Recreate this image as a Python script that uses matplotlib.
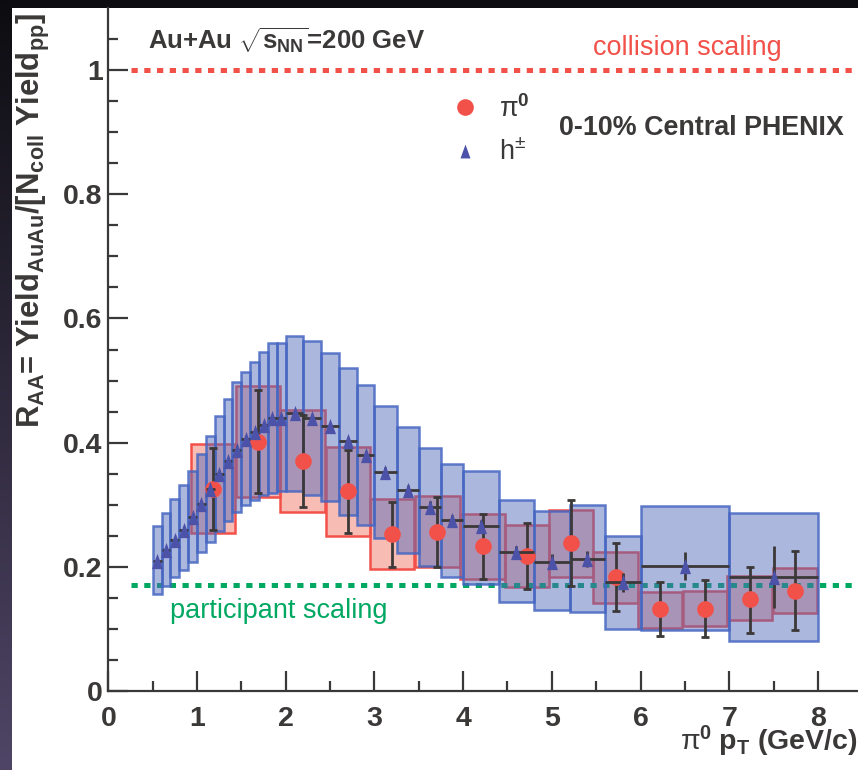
import matplotlib
matplotlib.use('Agg')
import matplotlib.pyplot as plt
from matplotlib.patches import Rectangle
from matplotlib.lines import Line2D
import numpy as np

plt.rcParams['font.family'] = ['Liberation Sans', 'DejaVu Sans']
plt.rcParams['mathtext.fontset'] = 'custom'
plt.rcParams['mathtext.rm'] = 'Liberation Sans:bold'
plt.rcParams['mathtext.it'] = 'Liberation Sans:bold'
plt.rcParams['mathtext.bf'] = 'Liberation Sans:bold'
plt.rcParams['mathtext.sf'] = 'Liberation Sans'

# ---------------- data ----------------
# pi0 R_AA (0-10% central Au+Au)
pi0_pt = [1.18, 1.69, 2.19, 2.70, 3.20, 3.71, 4.22, 4.72, 5.22, 5.72, 6.22, 6.73, 7.23, 7.74]
pi0_raa = [0.326, 0.401, 0.370, 0.322, 0.253, 0.256, 0.234, 0.218, 0.239, 0.183, 0.132, 0.132, 0.148, 0.161]
pi0_stat_lo = [0.259, 0.319, 0.296, 0.254, 0.199, 0.200, 0.181, 0.165, 0.169, 0.129, 0.088, 0.087, 0.093, 0.099]
pi0_stat_hi = [0.392, 0.484, 0.445, 0.388, 0.305, 0.313, 0.285, 0.270, 0.307, 0.239, 0.175, 0.179, 0.200, 0.226]
pi0_sys_lo = [0.254, 0.312, 0.288, 0.250, 0.196, 0.199, 0.180, 0.168, 0.184, 0.142, 0.102, 0.104, 0.114, 0.125]
pi0_sys_hi = [0.398, 0.491, 0.453, 0.393, 0.309, 0.314, 0.285, 0.267, 0.291, 0.224, 0.160, 0.161, 0.185, 0.198]
pi0_bin_halfwidth = 0.25

# charged hadrons R_AA
h_pt_lo = [0.5, 0.6, 0.7, 0.8, 0.9, 1.0, 1.1, 1.2, 1.3, 1.4, 1.5, 1.6, 1.7, 1.8, 1.9,
           2.0, 2.2, 2.4, 2.6, 2.8, 3.0, 3.25, 3.5, 3.75, 4.0, 4.4, 4.8, 5.2, 5.6, 6.0, 7.0]
h_pt_hi = [0.6, 0.7, 0.8, 0.9, 1.0, 1.1, 1.2, 1.3, 1.4, 1.5, 1.6, 1.7, 1.8, 1.9, 2.0,
           2.2, 2.4, 2.6, 2.8, 3.0, 3.25, 3.5, 3.75, 4.0, 4.4, 4.8, 5.2, 5.6, 6.0, 7.0, 8.0]
h_raa = [0.210, 0.227, 0.243, 0.260, 0.280, 0.301, 0.325, 0.349, 0.370, 0.388, 0.406, 0.417,
         0.429, 0.440, 0.440, 0.447, 0.440, 0.426, 0.402, 0.380, 0.352, 0.324, 0.297, 0.275,
         0.265, 0.224, 0.208, 0.213, 0.175, 0.201, 0.184]
h_stat = [0.005, 0.005, 0.005, 0.005, 0.005, 0.005, 0.005, 0.005, 0.005, 0.005, 0.005, 0.005,
          0.005, 0.005, 0.005, 0.006, 0.006, 0.006, 0.007, 0.007, 0.008, 0.008, 0.009, 0.009,
          0.010, 0.010, 0.012, 0.013, 0.015, 0.023, 0.050]
h_sys_lo = [0.156, 0.169, 0.183, 0.195, 0.208, 0.224, 0.240, 0.257, 0.274, 0.288, 0.300, 0.307,
            0.316, 0.319, 0.322, 0.322, 0.316, 0.306, 0.284, 0.267, 0.246, 0.222, 0.201, 0.184,
            0.172, 0.144, 0.130, 0.127, 0.100, 0.099, 0.081]
h_sys_hi = [0.265, 0.287, 0.309, 0.331, 0.355, 0.382, 0.411, 0.443, 0.470, 0.497, 0.514, 0.530,
            0.546, 0.560, 0.561, 0.571, 0.563, 0.545, 0.521, 0.493, 0.459, 0.425, 0.392, 0.366,
            0.355, 0.307, 0.290, 0.300, 0.250, 0.298, 0.287]

collision_scaling = 1.0
participant_scaling = 0.17
scaling_pt_start = 0.26

x_ticks = [0, 1, 2, 3, 4, 5, 6, 7, 8]
y_ticks = [0, 0.2, 0.4, 0.6, 0.8, 1.0]
y_ticklabels = ['0', '0.2', '0.4', '0.6', '0.8', '1']

# ---------------- styling ----------------
W, H = 858, 770
TXT = '#3b3838'
RED = '#f2514a'
GREEN = '#00a862'
TRI = '#4b52a8'

fig = plt.figure(figsize=(W / 100, H / 100), dpi=100, facecolor='#0d0d11')

# left gradient strip of the slide background
bg = fig.add_axes([0, 0, 12 / W, 1])
grad = np.linspace(0, 1, 256)[:, None]
top_c = np.array([0.05, 0.05, 0.065])
bot_c = np.array([0.31, 0.27, 0.40])
img = top_c[None, None, :] * (1 - grad[:, :, None]) + bot_c[None, None, :] * grad[:, :, None]
bg.imshow(img, aspect='auto', extent=[0, 1, 0, 1], origin='upper')
bg.axis('off')

fig.patches.append(Rectangle((12 / W, 0), 1 - 12 / W, 1 - 8 / H, transform=fig.transFigure,
                             facecolor='white', edgecolor='none', zorder=-5))

ax_left, ax_bottom = 108.3 / W, (H - 691) / H
ax_w, ax_h = (W - 108.3) / W, 683 / H
ax = fig.add_axes([ax_left, ax_bottom, ax_w, ax_h])
ax.set_facecolor('none')
ax.set_xlim(0, 8.452)
ax.set_ylim(0, 1.1)

# pi0 systematic boxes
for pt, lo, hi in zip(pi0_pt, pi0_sys_lo, pi0_sys_hi):
    ax.add_patch(Rectangle((pt - pi0_bin_halfwidth, lo), 2 * pi0_bin_halfwidth, hi - lo,
                           facecolor=(0.93, 0.36, 0.27, 0.40), edgecolor=RED, lw=1.8, zorder=1))

# scaling lines
ax.hlines(collision_scaling, scaling_pt_start, 8.452, colors=RED, lw=3.6,
          linestyles=(0, (1.25, 1.3)), zorder=1.5, capstyle='butt')
ax.hlines(participant_scaling, scaling_pt_start, 8.452, colors=GREEN, lw=3.6,
          linestyles=(0, (1.25, 1.3)), zorder=1.5, capstyle='butt')

# h+- systematic boxes
for lo_pt, hi_pt, lo, hi in zip(h_pt_lo, h_pt_hi, h_sys_lo, h_sys_hi):
    ax.add_patch(Rectangle((lo_pt, lo), hi_pt - lo_pt, hi - lo,
                           facecolor=(0.32, 0.41, 0.73, 0.48), edgecolor=(0.27, 0.40, 0.76, 0.85),
                           lw=1.8, zorder=2))

# pi0 points
pi0_pt_a = np.array(pi0_pt)
pi0_raa_a = np.array(pi0_raa)
yerr_pi0 = [pi0_raa_a - np.array(pi0_stat_lo), np.array(pi0_stat_hi) - pi0_raa_a]
ax.errorbar(pi0_pt_a, pi0_raa_a, yerr=yerr_pi0, fmt='none', ecolor=TXT, elinewidth=2.0,
            capsize=3.2, capthick=2.0, zorder=5)
ax.plot(pi0_pt_a, pi0_raa_a, 'o', color=RED, markersize=12, markeredgewidth=0, zorder=6)

# h+- points
h_lo_a, h_hi_a = np.array(h_pt_lo), np.array(h_pt_hi)
h_pt = (h_lo_a + h_hi_a) / 2
xerr_h = [h_pt - h_lo_a, h_hi_a - h_pt]
ax.errorbar(h_pt, h_raa, xerr=xerr_h, yerr=h_stat, fmt='none', ecolor=TXT, elinewidth=2.0,
            capsize=0, zorder=7)
tri = [(-0.36, -0.5), (0.36, -0.5), (0.0, 0.5), (-0.36, -0.5)]
ax.plot(h_pt, h_raa, linestyle='none', marker=tri, color=TRI, markersize=11,
        markeredgewidth=0, zorder=8)

# axes styling
for s in ['top', 'right']:
    ax.spines[s].set_visible(False)
for s in ['left', 'bottom']:
    ax.spines[s].set_color(TXT)
    ax.spines[s].set_linewidth(1.6)
ax.set_xticks(x_ticks)
ax.set_xticks(np.arange(0.5, 8.5, 1.0), minor=True)
ax.set_yticks(y_ticks)
ax.set_yticklabels(y_ticklabels)
ax.set_yticks(np.arange(0.05, 1.1, 0.05), minor=True)
ax.tick_params(axis='both', which='major', direction='in', length=14.5, width=1.6,
               color=TXT, labelcolor=TXT, labelsize=20.5)
ax.tick_params(axis='both', which='minor', direction='in', length=7.2, width=1.6, color=TXT)
ax.tick_params(axis='x', which='major', pad=11)
ax.tick_params(axis='y', which='major', pad=4)
for lab in ax.get_xticklabels() + ax.get_yticklabels():
    lab.set_fontweight('bold')

# texts
ax.text(0.0526, 0.9385, r'Au+Au $\sqrt{s_{NN}}$=200 GeV', transform=ax.transAxes,
        fontsize=18.5, fontweight='bold', color=TXT, va='baseline', ha='left')
ax.text(0.6465, 0.931, 'collision scaling', transform=ax.transAxes, fontsize=19.5,
        color=RED, va='baseline', ha='left')
ax.text(0.6016, 0.814, '0-10% Central PHENIX', transform=ax.transAxes, fontsize=19.4,
        fontweight='bold', color=TXT, va='baseline', ha='left')
ax.text(0.0823, 0.1064, 'participant scaling', transform=ax.transAxes, fontsize=19.5,
        color=GREEN, va='baseline', ha='left')

# legend
hd = [Line2D([], [], linestyle='none', marker='o', color=RED, markersize=12, markeredgewidth=0),
      Line2D([], [], linestyle='none', marker=tri, color=TRI, markersize=10, markeredgewidth=0)]
leg = ax.legend(hd, [r'$\mathsf{\pi}^{0}$', r'$\mathsf{h}^{\mathsf{\pm}}$'], loc='upper left',
                bbox_to_anchor=(0.458, 0.873), frameon=False, fontsize=19.5, handlelength=1.0,
                handletextpad=0.75, labelspacing=0.63, borderpad=0, borderaxespad=0)
for t in leg.get_texts():
    t.set_color(TXT)

fig.text(857 / W, (H - 750) / H, r'$\mathsf{\pi}^{0}\;p_{T}$ (GeV/c)', fontsize=20.5,
         fontweight='bold', color=TXT, ha='right', va='baseline')
fig.text(33 / W, 1 - 220 / H, r'$R_{AA}$= Yield$_{AuAu}$/[N$_{coll}$ Yield$_{pp}$]',
         fontsize=22.3, fontweight='bold', color=TXT, rotation=90, ha='center', va='center')

fig.savefig('out.png', dpi=100, facecolor=fig.get_facecolor())
